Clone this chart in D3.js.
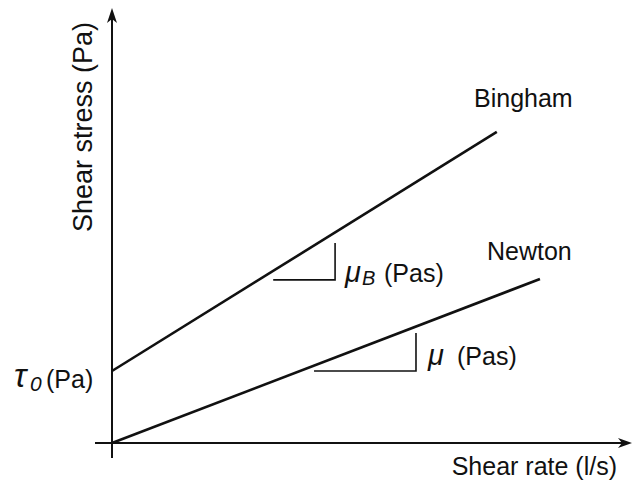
<!DOCTYPE html>
<html><head><meta charset="utf-8">
<script src="https://cdn.jsdelivr.net/npm/d3@7"></script>
<style>body{margin:0;background:#fff}svg{display:block}text{font-family:"Liberation Sans",Arial,sans-serif;fill:#111}</style>
</head><body>
<script>
// Data (arbitrary units)
const seriesNames = ["Bingham", "Newton"];
const binghamLine = [[0, 1.655], [7.40, 7.15]];
const newtonLine = [[0, 0], [8.23, 3.77]];
const binghamSlope = [[3.10, 3.75], [4.29, 3.75], [4.29, 4.60]];
const newtonSlope = [[3.885, 1.655], [5.846, 1.655], [5.846, 2.529]];
const xDomain = [0, 10];
const yDomain = [0, 10];

const W = 632, H = 481;
const svg = d3.select("body").append("svg").attr("width", W).attr("height", H);
const x = d3.scaleLinear().domain(xDomain).range([112, 632]);
const y = d3.scaleLinear().domain(yDomain).range([443, 8]);

// axes
const ax = svg.append("g").attr("stroke", "#111").attr("stroke-width", 2);
ax.append("line").attr("x1", 95).attr("x2", x(10) - 8).attr("y1", y(0)).attr("y2", y(0));
ax.append("line").attr("x1", x(0)).attr("x2", x(0)).attr("y1", 458).attr("y2", y(10) + 8);
svg.append("path").attr("fill", "#111")
  .attr("d", `M${x(10)},${y(0)} L${x(10)-14},${y(0)-5} L${x(10)-10},${y(0)} L${x(10)-14},${y(0)+5} Z`);
svg.append("path").attr("fill", "#111")
  .attr("d", `M${x(0)},${y(10)} L${x(0)-5},${y(10)+15} L${x(0)},${y(10)+11} L${x(0)+5},${y(10)+15} Z`);

const line = d3.line().x(d => x(d[0])).y(d => y(d[1]));
[binghamLine, newtonLine].forEach(d => {
  svg.append("path").attr("d", line(d)).attr("fill", "none").attr("stroke", "#111").attr("stroke-width", 2.6);
});
[binghamSlope, newtonSlope].forEach(d => {
  svg.append("path").attr("d", line(d)).attr("fill", "none").attr("stroke", "#111").attr("stroke-width", 1.6);
});

// labels
const FS = 25;
svg.append("text").attr("x", 474).attr("y", 107).attr("font-size", FS).text(seriesNames[0]);
svg.append("text").attr("x", 487).attr("y", 260).attr("font-size", FS).text(seriesNames[1]);
svg.append("text").attr("x", 617).attr("y", 475).attr("text-anchor", "end").attr("font-size", FS).text("Shear rate (l/s)");
svg.append("text").attr("transform", "translate(92,127) rotate(-90)").attr("text-anchor", "middle")
  .attr("font-size", 27).text("Shear stress (Pa)");

const t0 = svg.append("text").attr("x", 14).attr("y", 387).attr("font-size", FS);
t0.append("tspan").attr("font-style", "italic").attr("font-size", 33).text("τ");
t0.append("tspan").attr("font-style", "italic").attr("font-size", 21).attr("dy", 4).attr("x", 30).text("0");
t0.append("tspan").attr("dy", -3).attr("x", 46).text("(Pa)");

const mb = svg.append("text").attr("x", 345).attr("y", 282).attr("font-size", FS);
mb.append("tspan").attr("font-style", "italic").attr("font-size", 29).text("μ");
mb.append("tspan").attr("font-style", "italic").attr("font-size", 20).attr("dy", 3).attr("x", 362).text("B");
mb.append("tspan").attr("dy", -3).attr("x", 384).text("(Pas)");

const mu = svg.append("text").attr("x", 428).attr("y", 365).attr("font-size", FS);
mu.append("tspan").attr("font-style", "italic").attr("font-size", 29).text("μ");
mu.append("tspan").attr("x", 457).text("(Pas)");
</script>
</body></html>
